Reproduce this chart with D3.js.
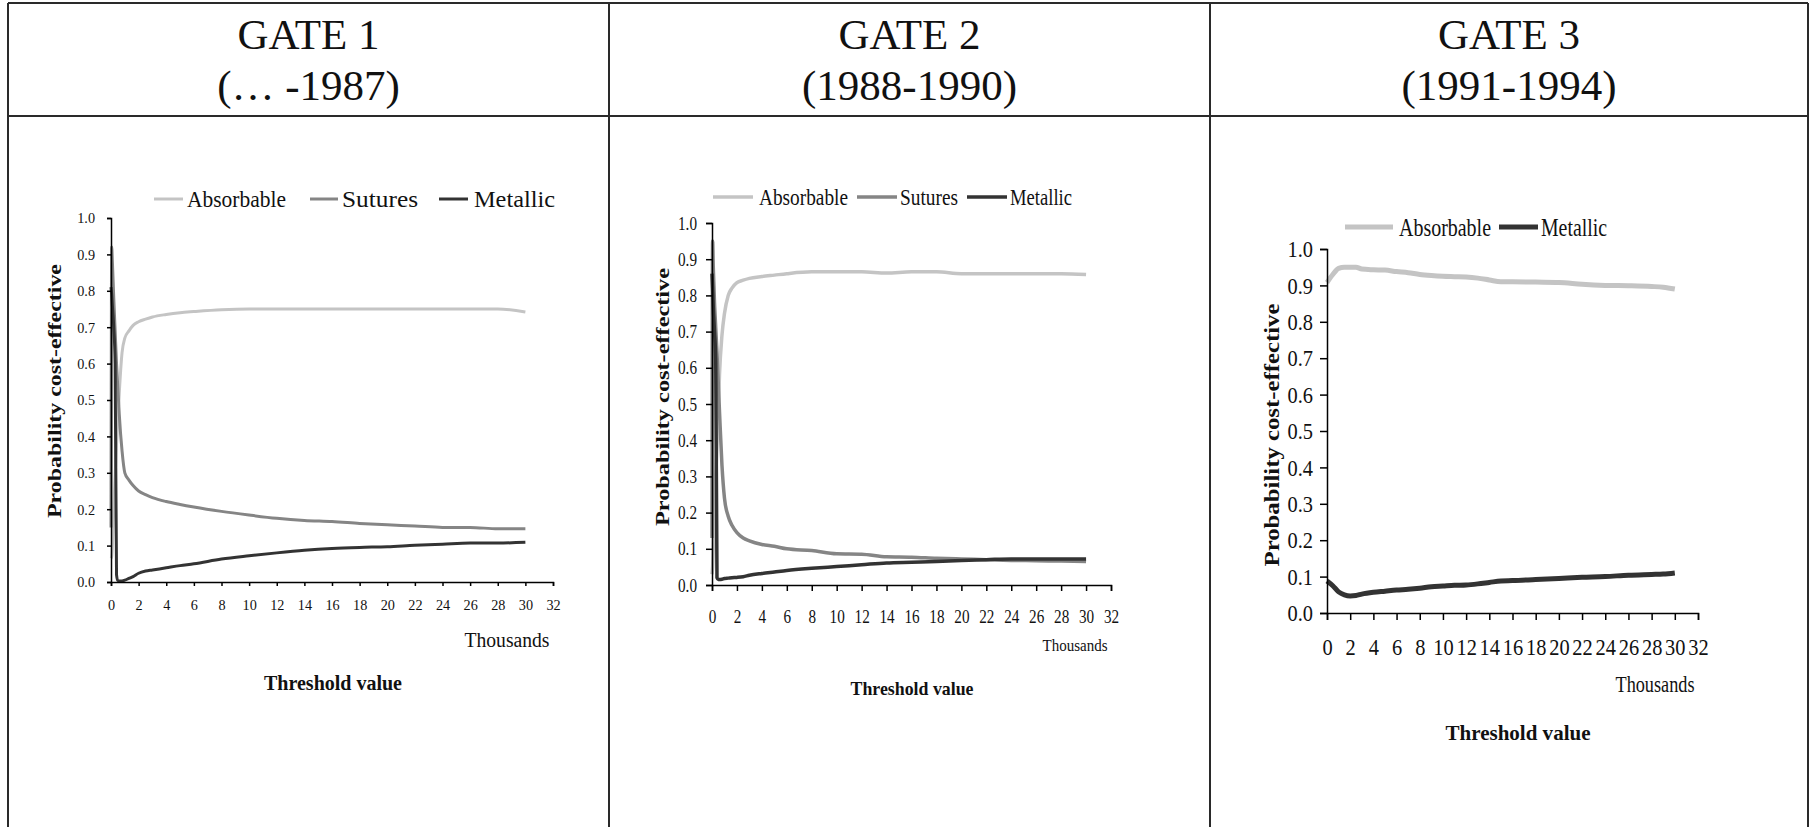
<!DOCTYPE html>
<html>
<head>
<meta charset="utf-8">
<script src="https://cdn.jsdelivr.net/npm/d3@7"></script>
<style>
  html, body { margin: 0; padding: 0; background: #fff; }
  svg { display: block; }
  text { font-family: "Liberation Serif", "Times New Roman", serif; fill: #111; }
</style>
</head>
<body>
<svg id="chart" width="1813" height="827"></svg>
<script>
// ---------------- DATA ----------------
const gateTitles = ["GATE 1", "GATE 2", "GATE 3"];
const gatePeriods = ["(\u2026 -1987)", "(1988-1990)", "(1991-1994)"];
const seriesNames = ["Absorbable", "Sutures", "Metallic"];
const xTickValues = [0, 2, 4, 6, 8, 10, 12, 14, 16, 18, 20, 22, 24, 26, 28, 30, 32];
const yTickValues = [0, 0.1, 0.2, 0.3, 0.4, 0.5, 0.6, 0.7, 0.8, 0.9, 1.0];
const xUnitLabel = "Thousands";
const xAxisTitle = "Threshold value";
const yAxisTitle = "Probability cost-effective";

// Gate 1 (threshold in thousands)
const gate1X          = [0, 0.05, 0.1, 0.2, 0.3, 0.4, 0.5, 0.6, 0.8, 1.0, 1.3, 1.6, 2, 2.5, 3, 4, 5, 6, 8, 10, 12, 14, 16, 18, 20, 22, 24, 26, 28, 30];
const gate1Absorbable = [0.065, 0.07, 0.1, 0.2, 0.29, 0.38, 0.45, 0.52, 0.63, 0.67, 0.69, 0.705, 0.715, 0.722, 0.728, 0.735, 0.74, 0.743, 0.748, 0.75, 0.75, 0.75, 0.75, 0.75, 0.75, 0.75, 0.75, 0.75, 0.75, 0.742];
const gate1Sutures    = [0.15, 0.92, 0.88, 0.78, 0.69, 0.6, 0.53, 0.46, 0.36, 0.3, 0.28, 0.265, 0.25, 0.24, 0.232, 0.221, 0.213, 0.206, 0.194, 0.184, 0.175, 0.169, 0.166, 0.161, 0.157, 0.154, 0.15, 0.15, 0.146, 0.146];
const gate1Metallic   = [0.81, 0.79, 0.76, 0.7, 0.6, 0.02, 0.004, 0.003, 0.003, 0.005, 0.01, 0.015, 0.024, 0.03, 0.033, 0.039, 0.045, 0.05, 0.063, 0.072, 0.08, 0.087, 0.092, 0.095, 0.097, 0.101, 0.104, 0.107, 0.107, 0.109];

// Gate 2
const gate2X          = [0, 0.05, 0.1, 0.2, 0.3, 0.4, 0.5, 0.6, 0.8, 1.0, 1.3, 1.6, 2, 2.5, 3, 4, 5, 6, 8, 10, 12, 14, 16, 18, 20, 22, 24, 26, 28, 30];
const gate2Absorbable = [0.03, 0.05, 0.1, 0.22, 0.3, 0.38, 0.48, 0.58, 0.69, 0.75, 0.8, 0.82, 0.835, 0.842, 0.847, 0.852, 0.856, 0.86, 0.865, 0.865, 0.865, 0.862, 0.865, 0.865, 0.86, 0.86, 0.86, 0.86, 0.86, 0.858];
const gate2Sutures    = [0.13, 0.95, 0.88, 0.78, 0.71, 0.64, 0.56, 0.48, 0.33, 0.24, 0.19, 0.165, 0.145, 0.13, 0.122, 0.112, 0.107, 0.1, 0.095, 0.086, 0.085, 0.078, 0.077, 0.074, 0.072, 0.07, 0.068, 0.067, 0.066, 0.065];
const gate2Metallic   = [0.86, 0.82, 0.77, 0.7, 0.62, 0.02, 0.015, 0.015, 0.016, 0.018, 0.019, 0.02, 0.021, 0.023, 0.027, 0.032, 0.036, 0.04, 0.046, 0.051, 0.056, 0.061, 0.063, 0.065, 0.068, 0.07, 0.072, 0.072, 0.072, 0.072];

// Gate 3
const gate3X          = [0, 0.5, 1, 1.5, 2, 2.5, 3, 4, 5, 6, 7, 8, 9, 10, 11, 12, 13, 14, 15, 16, 18, 20, 22, 24, 26, 28, 29, 30];
const gate3Absorbable = [0.908, 0.93, 0.947, 0.95, 0.95, 0.95, 0.945, 0.943, 0.942, 0.938, 0.935, 0.93, 0.927, 0.925, 0.924, 0.923, 0.92, 0.915, 0.91, 0.91, 0.909, 0.908, 0.903, 0.9, 0.899, 0.897, 0.895, 0.89];
const gate3Metallic   = [0.088, 0.075, 0.058, 0.05, 0.047, 0.048, 0.052, 0.057, 0.06, 0.063, 0.065, 0.068, 0.072, 0.074, 0.076, 0.077, 0.08, 0.084, 0.088, 0.089, 0.092, 0.095, 0.098, 0.1, 0.104, 0.106, 0.107, 0.11];

// --------------- STYLES / LAYOUT ---------------
const seriesColor = { "Absorbable": "#c4c4c4", "Sutures": "#858585", "Metallic": "#333333" };

const panels = [
  {
    x: gate1X, series: [["Absorbable", gate1Absorbable], ["Sutures", gate1Sutures], ["Metallic", gate1Metallic]],
    plot: { x0: 111, x1: 553, y0: 582, y1: 218 }, lineW: 3,
    tick: { size: 4, xPad: 13, yPad: 12, font: 15, sx: 0.95 },
    legend: { y: 199, font: 23, items: [[154, 183, 187, 99], [310, 338, 342, 76], [439, 468, 474, 81]], lw: 3 },
    thousands: { x: 507, y: 640, font: 20, w: 85 },
    xTitle: { x: 333, y: 683, font: 20, w: 138 },
    yTitle: { x: 55, y: 391, font: 18, w: 254 }
  },
  {
    x: gate2X, series: [["Absorbable", gate2Absorbable], ["Sutures", gate2Sutures], ["Metallic", gate2Metallic]],
    plot: { x0: 712, x1: 1111, y0: 585, y1: 223 }, lineW: 3.5,
    tick: { size: 6, xPad: 19, yPad: 9, font: 19, sx: 0.8 },
    legend: { y: 197, font: 23, items: [[713, 753, 759, 89], [857, 897, 900, 58], [967, 1007, 1010, 62]], lw: 3.5 },
    thousands: { x: 1075, y: 645, font: 17, w: 65 },
    xTitle: { x: 912, y: 688, font: 19, w: 123 },
    yTitle: { x: 662, y: 397, font: 19, w: 258 }
  },
  {
    x: gate3X, series: [["Absorbable", gate3Absorbable], ["Metallic", gate3Metallic]],
    plot: { x0: 1327, x1: 1698, y0: 613, y1: 249 }, lineW: 5,
    tick: { size: 7, xPad: 18, yPad: 7, font: 24, sx: 0.85 },
    legend: { y: 227, font: 26, items: [[1345, 1393, 1399, 92], [1499, 1538, 1541, 66]], lw: 5 },
    thousands: { x: 1655, y: 684, font: 23, w: 79 },
    xTitle: { x: 1518, y: 732, font: 22, w: 145 },
    yTitle: { x: 1272, y: 435, font: 21, w: 263 }
  }
];

const table = { left: 8, top: 3, right: 1808, bottom: 830, header: 116, cols: [8, 609, 1210, 1808] };
const titleFont = 43;

// --------------- DRAW ---------------
const svg = d3.select("#chart");

// table frame
const frame = svg.append("g").attr("stroke", "#2a2a2a").attr("stroke-width", 2).attr("fill", "none");
frame.append("line").attr("x1", table.left).attr("x2", table.right).attr("y1", table.top).attr("y2", table.top);
frame.append("line").attr("x1", table.left).attr("x2", table.right).attr("y1", table.header).attr("y2", table.header);
table.cols.forEach(c => frame.append("line").attr("x1", c).attr("x2", c).attr("y1", table.top).attr("y2", table.bottom));

// titles
gateTitles.forEach((t, i) => {
  const cx = (table.cols[i] + table.cols[i + 1]) / 2;
  svg.append("text").attr("x", cx).attr("y", 49).attr("text-anchor", "middle")
    .attr("font-size", titleFont).text(t);
  svg.append("text").attr("x", cx).attr("y", 100).attr("text-anchor", "middle")
    .attr("font-size", titleFont).text(gatePeriods[i]);
});

panels.forEach(p => {
  const g = svg.append("g");
  const xs = d3.scaleLinear().domain([0, 32]).range([p.plot.x0, p.plot.x1]);
  const ys = d3.scaleLinear().domain([0, 1]).range([p.plot.y0, p.plot.y1]);

  // series lines
  const line = d3.line().x(d => xs(d[0])).y(d => ys(d[1])).curve(d3.curveMonotoneX);
  p.series.forEach(([name, vals]) => {
    const pts = p.x.map((xv, k) => [xv, vals[k]]);
    g.append("path").datum(pts).attr("d", line)
      .attr("fill", "none").attr("stroke", seriesColor[name])
      .attr("stroke-width", p.lineW).attr("stroke-linejoin", "round");
  });

  // axes
  const xAxis = d3.axisBottom(xs).tickValues(xTickValues).tickFormat(d3.format("d"))
    .tickSize(p.tick.size).tickSizeOuter(p.tick.size).tickPadding(p.tick.xPad);
  const yAxis = d3.axisLeft(ys).tickValues(yTickValues).tickFormat(d3.format(".1f"))
    .tickSize(p.tick.size).tickSizeOuter(p.tick.size).tickPadding(p.tick.yPad);

  const gx = g.append("g").attr("transform", `translate(0,${p.plot.y0})`).call(xAxis);
  const gy = g.append("g").attr("transform", `translate(${p.plot.x0},0)`).call(yAxis);
  [gx, gy].forEach(ax => {
    ax.select(".domain").attr("stroke", "#000").attr("stroke-width", 1.5);
    ax.selectAll(".tick line").attr("stroke", "#000").attr("stroke-width", 1.5);
    ax.selectAll(".tick text").attr("font-family", "Liberation Serif, serif")
      .attr("font-size", p.tick.font).attr("fill", "#111");
  });
  gx.selectAll(".tick text").attr("transform", `scale(${p.tick.sx},1)`);
  gy.selectAll(".tick text")
    .attr("x", -(p.tick.size + p.tick.yPad) / p.tick.sx)
    .attr("transform", `scale(${p.tick.sx},1)`);

  // legend
  p.series.forEach(([name], k) => {
    const it = p.legend.items[k];
    g.append("line").attr("x1", it[0]).attr("x2", it[1]).attr("y1", p.legend.y).attr("y2", p.legend.y)
      .attr("stroke", seriesColor[name]).attr("stroke-width", p.legend.lw);
    g.append("text").attr("x", it[2]).attr("y", p.legend.y).attr("dy", "0.35em")
      .attr("font-size", p.legend.font)
      .attr("textLength", it[3]).attr("lengthAdjust", "spacingAndGlyphs").text(name);
  });

  // unit label
  g.append("text").attr("x", p.thousands.x).attr("y", p.thousands.y).attr("dy", "0.35em")
    .attr("text-anchor", "middle").attr("font-size", p.thousands.font)
    .attr("textLength", p.thousands.w).attr("lengthAdjust", "spacingAndGlyphs").text(xUnitLabel);

  // x title
  g.append("text").attr("x", p.xTitle.x).attr("y", p.xTitle.y).attr("dy", "0.35em")
    .attr("text-anchor", "middle").attr("font-size", p.xTitle.font).attr("font-weight", "bold")
    .attr("textLength", p.xTitle.w).attr("lengthAdjust", "spacingAndGlyphs").text(xAxisTitle);

  // y title
  g.append("text").attr("transform", `translate(${p.yTitle.x},${p.yTitle.y}) rotate(-90)`)
    .attr("dy", "0.35em").attr("text-anchor", "middle")
    .attr("font-size", p.yTitle.font).attr("font-weight", "bold")
    .attr("textLength", p.yTitle.w).attr("lengthAdjust", "spacingAndGlyphs").text(yAxisTitle);
});
</script>
</body>
</html>
